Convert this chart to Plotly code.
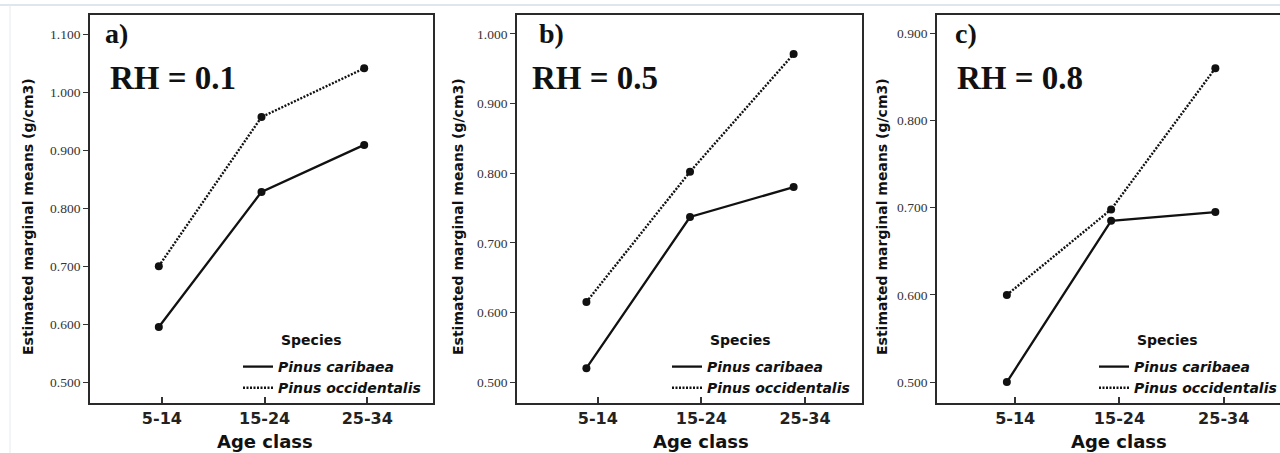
import plotly.graph_objects as go

# ---------------- data ----------------
ages = ["5-14", "15-24", "25-34"]
species = ["Pinus caribaea", "Pinus occidentalis"]
panel_letters = ["a)", "b)", "c)"]
rh_labels = ["RH = 0.1", "RH = 0.5", "RH = 0.8"]

a_caribaea = [0.595, 0.828, 0.909]
a_occidentalis = [0.700, 0.957, 1.041]
b_caribaea = [0.520, 0.737, 0.780]
b_occidentalis = [0.615, 0.802, 0.971]
c_caribaea = [0.500, 0.685, 0.695]
c_occidentalis = [0.600, 0.698, 0.860]

a_yticks = [0.5, 0.6, 0.7, 0.8, 0.9, 1.0, 1.1]
b_yticks = [0.5, 0.6, 0.7, 0.8, 0.9, 1.0]
c_yticks = [0.5, 0.6, 0.7, 0.8, 0.9]

# ---------------- layout helpers ----------------
W, H = 1280, 453
def X(px):
    return px / W
def Y(px):
    return 1 - px / H

panels = [
    dict(car=a_caribaea, occ=a_occidentalis, yt=a_yticks, yr=[0.464, 1.133],
         xr=[-0.70, 2.64], off=-0.03, dom=[90, 433], ytitle_x=28, leg_x=238,
         lab_x=103, rh_x=108),
    dict(car=b_caribaea, occ=b_occidentalis, yt=b_yticks, yr=[0.470, 1.027],
         xr=[-0.78, 2.55], off=-0.11, dom=[517, 862], ytitle_x=458, leg_x=667,
         lab_x=537, rh_x=530),
    dict(car=c_caribaea, occ=c_occidentalis, yt=c_yticks, yr=[0.476, 0.921],
         xr=[-0.75, 2.54], off=-0.08, dom=[937, 1280], ytitle_x=882, leg_x=1094,
         lab_x=953, rh_x=955),
]

SANS = "DejaVu Sans"
SERIF = "Liberation Serif"
INK = "#111111"

fig = go.Figure()
layout = dict(
    width=W, height=H,
    margin=dict(l=0, r=0, t=0, b=0, autoexpand=False),
    paper_bgcolor="white", plot_bgcolor="white",
    showlegend=True,
    annotations=[], shapes=[],
)

for i, p in enumerate(panels):
    n = "" if i == 0 else str(i + 1)
    xa, ya = "x" + n, "y" + n
    leg = "legend" + n
    xs = [k + p["off"] for k in range(len(ages))]

    # lines (in legend)
    fig.add_trace(go.Scatter(
        x=xs, y=p["car"], mode="lines", name=species[0],
        line=dict(color=INK, width=2.3), xaxis=xa, yaxis=ya, legend=leg,
        hoverinfo="skip"))
    fig.add_trace(go.Scatter(
        x=xs, y=p["occ"], mode="lines", name=species[1],
        line=dict(color=INK, width=2.4, dash="2px,1.5px"), xaxis=xa, yaxis=ya,
        legend=leg, hoverinfo="skip"))
    # markers
    for ser in (p["car"], p["occ"]):
        fig.add_trace(go.Scatter(
            x=xs, y=ser, mode="markers", showlegend=False,
            marker=dict(color=INK, size=8, symbol="circle"),
            xaxis=xa, yaxis=ya, hoverinfo="skip"))

    dom = [X(p["dom"][0]), min(1.0, X(p["dom"][1]))]
    layout["xaxis" + n] = dict(
        domain=dom, range=p["xr"], anchor=ya,
        tickmode="array", tickvals=list(range(len(ages))), ticktext=ages,
        ticks="inside", ticklen=6, tickwidth=1.5, tickcolor="#333",
        showline=True, linecolor="#2a2a2a", linewidth=1.8, mirror=True,
        showgrid=False, zeroline=False,
        tickfont=dict(family=SANS, size=16, color="#222", weight="bold"),
    )
    layout["yaxis" + n] = dict(
        domain=[Y(403), Y(15)], range=p["yr"], anchor=xa,
        tickmode="array", tickvals=p["yt"], tickformat=".3f",
        ticks="outside", ticklen=5, tickwidth=1.2, tickcolor="#333",
        showline=True, linecolor="#2a2a2a", linewidth=1.8,
        mirror=(i < 2),
        showgrid=False, zeroline=False,
        tickfont=dict(family=SERIF, size=13.5, color="#333"),
    )
    layout[leg] = dict(
        x=X(p["leg_x"]), xanchor="left", y=Y(351), yanchor="top",
        bgcolor="rgba(0,0,0,0)", borderwidth=0,
        itemwidth=30, tracegroupgap=0,
        font=dict(family=SANS, size=14, color="#111", style="italic", weight="bold"),
    )
    ann = layout["annotations"]
    ann.append(dict(text="Species", xref="paper", yref="paper",
                    x=X(p["leg_x"] + 41), y=Y(340), xanchor="left", yanchor="middle",
                    showarrow=False,
                    font=dict(family=SANS, size=14, color="#111", weight="bold")))
    ann.append(dict(text="Estimated marginal means (g/cm3)", xref="paper", yref="paper",
                    x=X(p["ytitle_x"]), y=Y(217), textangle=-90,
                    xanchor="center", yanchor="middle", showarrow=False,
                    font=dict(family=SANS, size=14, color="#111", weight="bold")))
    ann.append(dict(text="Age class", xref=xa, yref="paper",
                    x=1, y=Y(441), xanchor="center", yanchor="middle", showarrow=False,
                    font=dict(family=SANS, size=18, color="#111", weight="bold")))
    ann.append(dict(text=panel_letters[i], xref="paper", yref="paper",
                    x=X(p["lab_x"]), y=Y(34), xanchor="left", yanchor="middle",
                    showarrow=False,
                    font=dict(family=SERIF, size=28, color="#111", weight="bold")))
    ann.append(dict(text=rh_labels[i], xref="paper", yref="paper",
                    x=X(p["rh_x"]), y=Y(78), xanchor="left", yanchor="middle",
                    showarrow=False,
                    font=dict(family=SERIF, size=33, color="#111", weight="bold")))

# faint page edge lines seen in the reference
layout["shapes"].append(dict(type="line", xref="paper", yref="paper",
                             x0=0, x1=1, y0=Y(5), y1=Y(5),
                             line=dict(color="#dfe6ee", width=2)))
layout["shapes"].append(dict(type="line", xref="paper", yref="paper",
                             x0=X(10), x1=X(10), y0=0, y1=Y(5),
                             line=dict(color="#e8eaee", width=1)))

fig.update_layout(**layout)
fig.write_html("out.html")
